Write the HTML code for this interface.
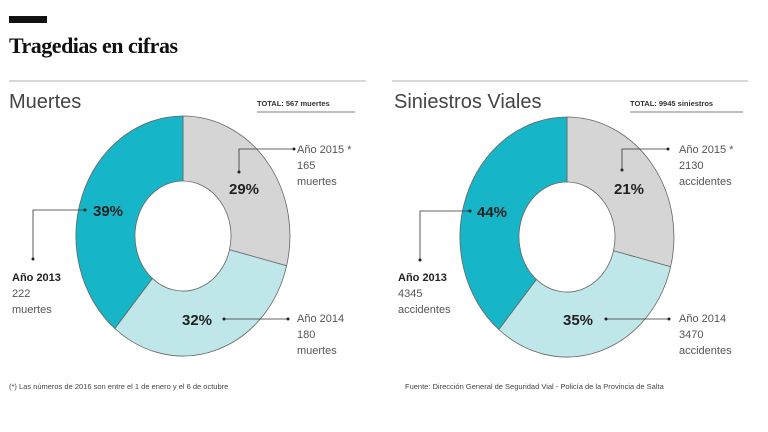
<!DOCTYPE html>
<html><head><meta charset="utf-8"><style>
body{margin:0;background:#fff;}
svg{display:block;font-family:"Liberation Sans",sans-serif;}
.l{font-size:11px;fill:#555;}
.p{font-size:15px;font-weight:bold;fill:#222;}
.b{font-weight:bold;fill:#222;}
</style></head><body>
<svg width="768" height="432" viewBox="0 0 768 432">
<rect x="9" y="16" width="38" height="7" fill="#111"/>
<text x="9" y="53" font-family="Liberation Serif,serif" font-weight="bold" font-size="22" fill="#111" letter-spacing="-0.5">Tragedias en cifras</text>
<line x1="9" y1="81" x2="366" y2="81" stroke="#ccc" stroke-width="1.5"/>
<line x1="392" y1="81" x2="748" y2="81" stroke="#ccc" stroke-width="1.5"/>
<text x="9" y="108" font-size="20" fill="#444">Muertes</text>
<text x="257" y="106" font-size="7.5" font-weight="bold" fill="#333">TOTAL: 567 muertes</text>
<line x1="257" y1="112" x2="355" y2="112" stroke="#555" stroke-width="0.8"/>
<text x="394" y="108" font-size="20" fill="#444">Siniestros Viales</text>
<text x="630" y="106" font-size="7.5" font-weight="bold" fill="#333">TOTAL: 9945 siniestros</text>
<line x1="630" y1="112" x2="743" y2="112" stroke="#555" stroke-width="0.8"/>

<g id="d" stroke="#666" stroke-width="0.8">
<path d="M183,116 A107,120 0 0 1 286.6,265.8 L229.5,249.7 A48,55 0 0 0 183,181 Z" fill="#d5d5d6"/>
<path d="M286.6,265.8 A107,120 0 0 1 114.8,328.5 L152.4,278.4 A48,55 0 0 0 229.5,249.7 Z" fill="#bfe6e8"/>
<path d="M114.8,328.5 A107,120 0 0 1 183,116 L183,181 A48,55 0 0 0 152.4,278.4 Z" fill="#16b5c8"/>
</g>
<use href="#d" transform="translate(384,1)"/>

<g stroke="#333" stroke-width="0.8" fill="none">
<polyline points="294,149 239,149 239,172"/>
<polyline points="85,210 33,210 33,259"/>
<line x1="224" y1="319" x2="288" y2="319"/>
<polyline points="622,170 622,149 668,149"/>
<polyline points="470,211 420,211 420,260"/>
<line x1="606" y1="319" x2="669" y2="319"/>
</g>
<g fill="#222">
<circle cx="294" cy="149" r="1.5"/><circle cx="239" cy="172" r="1.5"/>
<circle cx="85" cy="210" r="1.5"/><circle cx="33" cy="259" r="1.5"/>
<circle cx="224" cy="319" r="1.5"/><circle cx="288" cy="319" r="1.5"/>
<circle cx="622" cy="170" r="1.5"/><circle cx="668" cy="149" r="1.5"/>
<circle cx="470" cy="211" r="1.5"/><circle cx="420" cy="260" r="1.5"/>
<circle cx="606" cy="319" r="1.5"/><circle cx="669" cy="319" r="1.5"/>
</g>

<text class="p" x="229" y="194">29%</text>
<text class="p" x="93" y="216">39%</text>
<text class="p" x="182" y="325">32%</text>
<text class="l" x="297" y="153">Año 2015 *</text>
<text class="l" x="297" y="169">165</text>
<text class="l" x="297" y="185">muertes</text>
<text class="l b" x="12" y="281">Año 2013</text>
<text class="l" x="12" y="297">222</text>
<text class="l" x="12" y="313">muertes</text>
<text class="l" x="297" y="322">Año 2014</text>
<text class="l" x="297" y="338">180</text>
<text class="l" x="297" y="354">muertes</text>
<text x="9" y="389" font-size="7.5" fill="#444">(*) Las números de 2016 son entre el 1 de enero y el 6 de octubre</text>

<text class="p" x="614" y="194">21%</text>
<text class="p" x="477" y="217">44%</text>
<text class="p" x="563" y="325">35%</text>
<text class="l" x="679" y="153">Año 2015 *</text>
<text class="l" x="679" y="169">2130</text>
<text class="l" x="679" y="185">accidentes</text>
<text class="l b" x="398" y="281">Año 2013</text>
<text class="l" x="398" y="297">4345</text>
<text class="l" x="398" y="313">accidentes</text>
<text class="l" x="679" y="322">Año 2014</text>
<text class="l" x="679" y="338">3470</text>
<text class="l" x="679" y="354">accidentes</text>
<text x="405" y="389" font-size="7.5" fill="#444">Fuente: Dirección General de Seguridad Vial - Policía de la Provincia de Salta</text>
</svg>
</body></html>
